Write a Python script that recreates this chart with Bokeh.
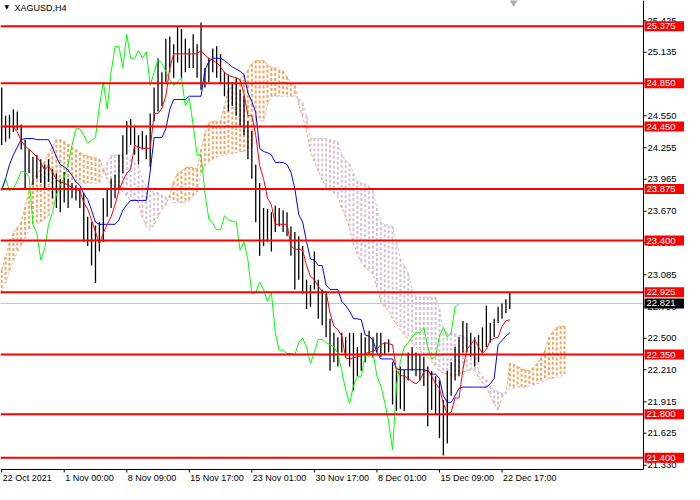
import numpy as np
from bokeh.plotting import figure
from bokeh.models import Range1d
from bokeh.core.properties import value
from bokeh.embed import file_html
from bokeh.resources import INLINE

symbol = "XAGUSD,H4"
x_tick_labels = ["22 Oct 2021", "1 Nov 00:00", "8 Nov 09:00", "15 Nov 17:00", "23 Nov 01:00",
                 "30 Nov 17:00", "8 Dec 01:00", "15 Dec 09:00", "22 Dec 17:00"]
slots_per_label = 16
price_ticks = [25.425, 25.135, 24.845, 24.550, 24.255, 23.965, 23.670, 23.380, 23.085,
               22.790, 22.500, 22.210, 21.915, 21.625, 21.330]
levels = [25.375, 24.850, 24.450, 23.875, 23.400, 22.925, 22.350, 21.800, 21.400]
last_price = 22.821

high = [24.81, 24.55, 24.56, 24.61, 24.59, 24.47, 24.33, 24.24, 24.17, 24.19,
        24.15, 24.10, 24.15, 24.06, 24.02, 23.97, 24.03, 23.97, 23.93, 23.91,
        23.88, 23.84, 23.62, 23.57, 23.54, 23.57, 23.79, 23.88, 23.97, 24.01,
        24.19, 24.37, 24.50, 24.52, 24.46, 24.37, 24.41, 24.37, 24.57, 24.81,
        25.08, 24.95, 25.26, 25.28, 25.21, 25.37, 25.35, 25.26, 25.17, 25.30,
        25.21, 25.41, 24.99, 25.08, 25.17, 25.19, 25.12, 24.95, 24.93, 24.86,
        24.90, 24.79, 24.73, 24.50, 24.41, 24.10, 23.93, 23.70, 23.69, 23.66,
        23.72, 23.70, 23.68, 23.66, 23.53, 23.48, 23.44, 23.35, 23.04, 22.99,
        23.30, 23.04, 22.95, 22.91, 22.68, 22.55, 22.51, 22.55, 22.51, 22.55,
        22.55, 22.42, 22.55, 22.51, 22.57, 22.51, 22.55, 22.55, 22.46, 22.49,
        22.28, 22.20, 22.24, 22.21, 22.37, 22.42, 22.37, 22.35, 22.33, 22.24,
        22.20, 22.15, 22.11, 21.93, 22.20, 22.28, 22.42, 22.51, 22.66, 22.64,
        22.55, 22.51, 22.53, 22.60, 22.80, 22.64, 22.68, 22.79, 22.82, 22.86,
        22.92]
low = [24.28, 24.31, 24.34, 24.40, 24.42, 24.24, 23.87, 24.02, 23.91, 23.97,
       23.93, 23.88, 23.94, 23.79, 23.70, 23.66, 23.75, 23.70, 23.79, 23.77,
       23.70, 23.39, 23.35, 23.17, 23.01, 23.30, 23.39, 23.62, 23.70, 23.79,
       23.88, 24.02, 24.19, 24.28, 24.19, 24.10, 24.24, 24.15, 24.08, 24.50,
       24.59, 24.64, 24.86, 24.95, 24.90, 25.04, 24.90, 24.95, 24.99, 24.99,
       24.90, 24.79, 24.81, 24.86, 24.95, 24.90, 24.84, 24.73, 24.59, 24.64,
       24.55, 24.46, 24.37, 24.15, 23.97, 23.57, 23.26, 23.35, 23.39, 23.30,
       23.48, 23.53, 23.48, 23.44, 23.26, 22.95, 23.04, 22.91, 22.77, 22.79,
       22.95, 22.68, 22.62, 22.51, 22.20, 22.28, 22.24, 22.37, 22.33, 22.24,
       22.02, 22.15, 22.20, 22.28, 22.35, 22.32, 22.37, 22.33, 22.35, 22.37,
       21.89, 21.83, 21.85, 21.83, 22.11, 22.20, 22.15, 22.11, 22.06, 21.69,
       21.84, 21.80, 21.58, 21.42, 21.53, 21.97, 22.11, 22.15, 22.37, 22.37,
       22.33, 22.24, 22.28, 22.37, 22.42, 22.46, 22.51, 22.64, 22.68, 22.73,
       22.77]
tenkan = [24.45, 24.45, 24.45, 24.45, 24.40, 24.32, 24.27, 24.24, 24.21, 24.17,
          24.12, 24.05, 24.09, 24.03, 23.96, 23.94, 23.93, 23.91, 23.89, 23.87,
          23.86, 23.75, 23.69, 23.59, 23.48, 23.37, 23.47, 23.55, 23.62, 23.73,
          23.86, 23.95, 24.02, 24.06, 24.28, 24.26, 24.25, 24.25, 24.25, 24.57,
          24.57, 24.62, 24.73, 24.99, 25.12, 25.12, 25.12, 25.12, 25.12, 25.12,
          25.12, 25.15, 25.11, 25.08, 25.06, 25.04, 25.00, 24.95, 24.92, 24.91,
          24.90, 24.88, 24.75, 24.55, 24.55, 24.37, 24.09, 23.97, 23.79, 23.73,
          23.55, 23.55, 23.55, 23.55, 23.35, 23.32, 23.32, 23.31, 23.17, 23.07,
          23.04, 22.98, 22.93, 22.93, 22.73, 22.61, 22.58, 22.52, 22.32, 22.31,
          22.32, 22.33, 22.34, 22.36, 22.37, 22.38, 22.40, 22.44, 22.46, 22.45,
          22.44, 22.20, 22.16, 22.15, 22.13, 22.10, 22.08, 22.11, 22.19, 22.21,
          22.15, 22.08, 22.04, 21.90, 21.80, 21.82, 21.95, 21.95, 22.21, 22.40,
          22.44, 22.49, 22.42, 22.36, 22.40, 22.48, 22.50, 22.51, 22.61, 22.66,
          22.67]
kijun = [23.86, 23.97, 24.10, 24.19, 24.26, 24.33, 24.34, 24.34, 24.34, 24.33,
         24.33, 24.33, 24.33, 24.26, 24.17, 24.10, 24.08, 24.05, 24.00, 23.94,
         23.91, 23.83, 23.78, 23.68, 23.57, 23.55, 23.55, 23.55, 23.55, 23.55,
         23.59, 23.68, 23.73, 23.77, 23.77, 23.77, 23.77, 23.77, 24.04, 24.35,
         24.35, 24.35, 24.43, 24.61, 24.70, 24.70, 24.70, 24.70, 24.73, 24.73,
         24.73, 24.73, 24.97, 25.05, 25.08, 25.08, 25.08, 25.06, 25.03, 25.00,
         24.98, 24.96, 24.93, 24.76, 24.68, 24.58, 24.25, 24.22, 24.21, 24.19,
         24.12, 24.12, 24.12, 24.10, 24.03, 23.88, 23.64, 23.57, 23.39, 23.23,
         23.22, 23.17, 23.17, 22.99, 22.95, 22.95, 22.95, 22.84, 22.80, 22.75,
         22.68, 22.68, 22.67, 22.53, 22.52, 22.48, 22.37, 22.31, 22.31, 22.31,
         22.31, 22.22, 22.21, 22.21, 22.21, 22.21, 22.21, 22.21, 22.21, 22.20,
         22.17, 22.17, 22.13, 21.97, 21.91, 21.91, 21.97, 22.04, 22.05, 22.05,
         22.05, 22.05, 22.05, 22.05, 22.05, 22.08, 22.13, 22.44, 22.48, 22.52,
         22.55]
chikou = [23.88, 23.97, 23.86, 23.88, 23.95, 24.04, 24.03, 23.99, 23.55, 23.47,
          23.22, 23.32, 23.55, 23.66, 23.82, 23.91, 23.98, 24.10, 24.28, 24.43,
          24.43, 24.37, 24.30, 24.32, 24.35, 24.64, 24.86, 24.61, 24.95, 25.19,
          25.19, 24.99, 25.30, 25.08, 25.08, 25.15, 25.08, 25.14, 24.83, 24.95,
          25.07, 25.03, 24.96, 24.88, 24.83, 24.86, 24.90, 24.64, 24.71, 24.46,
          24.19, 24.19, 23.84, 23.60, 23.56, 23.50, 23.50, 23.63, 23.59, 23.58,
          23.57, 23.31, 23.39, 23.22, 22.91, 22.92, 23.02, 22.95, 22.84, 22.92,
          22.55, 22.39, 22.39, 22.36, 22.36, 22.35, 22.46, 22.50, 22.42, 22.27,
          22.37, 22.49, 22.49, 22.46, 22.44, 22.42, 22.36, 22.20, 22.02, 21.90,
          22.06, 22.15, 22.15, 22.35, 22.33, 22.37, 22.15, 22.06, 21.91, 21.73,
          21.47, 22.06, 22.29, 22.42, 22.46, 22.51, 22.55, 22.55, 22.60, 22.42,
          22.31, 22.33, 22.52, 22.60, 22.51, 22.55, 22.79, 22.82]
span_a = [23.13, 23.25, 23.38, 23.47, 23.52, 23.57, 23.71, 23.86, 23.95, 24.01,
          24.06, 24.13, 24.20, 24.27, 24.33, 24.33, 24.31, 24.29, 24.26, 24.24,
          24.21, 24.19, 24.18, 24.17, 24.16, 24.15, 24.06, 23.97, 23.92, 23.90,
          23.88, 23.85, 23.81, 23.78, 23.77, 23.75, 23.62, 23.53, 23.50, 23.55,
          23.62, 23.69, 23.73, 23.82, 23.94, 24.02, 24.04, 24.07, 24.08, 24.07,
          24.06, 24.24, 24.39, 24.48, 24.50, 24.50, 24.50, 24.64, 24.79, 24.82,
          24.86, 24.89, 24.93, 24.97, 25.03, 25.06, 25.06, 25.06, 25.02, 24.99,
          24.99, 24.97, 24.96, 24.91, 24.85, 24.83, 24.65, 24.54, 24.41, 24.22,
          24.13, 24.04, 23.96, 23.89, 23.86, 23.84, 23.80, 23.70, 23.62, 23.51,
          23.37, 23.28, 23.20, 23.15, 23.12, 23.09, 22.97, 22.84, 22.78, 22.76,
          22.68, 22.63, 22.58, 22.53, 22.50, 22.46, 22.42, 22.38, 22.36, 22.32,
          22.29, 22.24, 22.20, 22.18, 22.17, 22.15, 22.16, 22.17, 22.19, 22.20,
          22.21, 22.20, 22.14, 22.09, 22.05, 21.97, 21.90, 21.84, 21.96, 21.99,
          22.27, 22.26, 22.24, 22.22, 22.21, 22.20, 22.23, 22.27, 22.32, 22.39,
          22.51, 22.56, 22.60, 22.61, 22.61]
span_b = [22.91, 23.01, 23.12, 23.22, 23.29, 23.35, 23.42, 23.49, 23.54, 23.55,
          23.57, 23.60, 23.63, 23.73, 23.81, 23.84, 23.91, 23.94, 23.94, 23.94,
          23.93, 23.93, 23.93, 23.93, 23.93, 23.93, 24.02, 24.12, 24.18, 24.19,
          24.19, 24.18, 24.17, 24.15, 24.12, 24.09, 23.96, 23.90, 23.87, 23.84,
          23.84, 23.82, 23.80, 23.78, 23.75, 23.75, 23.75, 23.75, 23.77, 23.80,
          23.84, 24.02, 24.09, 24.12, 24.15, 24.17, 24.18, 24.19, 24.20, 24.20,
          24.21, 24.22, 24.22, 24.24, 24.26, 24.52, 24.51, 24.50, 24.65, 24.73,
          24.73, 24.73, 24.73, 24.73, 24.73, 24.73, 24.71, 24.67, 24.55, 24.34,
          24.34, 24.34, 24.34, 24.34, 24.33, 24.32, 24.31, 24.19, 24.14, 24.11,
          24.02, 23.95, 23.93, 23.92, 23.90, 23.86, 23.70, 23.57, 23.55, 23.54,
          23.53, 23.39, 23.23, 23.17, 23.10, 22.95, 22.88, 22.88, 22.88, 22.88,
          22.88, 22.88, 22.77, 22.55, 22.55, 22.55, 22.54, 22.53, 22.52, 22.49,
          22.46, 22.42, 22.20, 22.15, 22.12, 22.06, 22.02, 22.01, 21.99, 22.00,
          22.04, 22.04, 22.05, 22.05, 22.05, 22.06, 22.07, 22.08, 22.09, 22.11,
          22.13, 22.13, 22.14, 22.15, 22.17]

# ---- styling / layout constants ----
SANDY = "#f4a460"
THISTLE = "#d8bfd8"
FONT = value("Liberation Sans")
PW, PH = 684, 484          # canvas
AW, AH = 643, 469          # chart area (price axis on the right, time axis below)
X0, X1 = -0.3, 164.2       # visible bar slots in chart area
Y0, Y1 = 21.291, 25.612    # visible price range in chart area
px_x = (X1 - X0) / AW
px_y = (Y1 - Y0) / AH
XE = X0 + px_x * PW
YB = Y1 - px_y * PH

p = figure(width=PW, height=PH, x_range=Range1d(X0, XE), y_range=Range1d(YB, Y1),
           output_backend="svg", toolbar_location=None, x_axis_location=None,
           y_axis_location=None, min_border=0, background_fill_color="white",
           border_fill_color="white", outline_line_color=None)
for g in p.grid:
    g.visible = False

# ---- Ichimoku cloud: dotted columns between the two spans ----
cs = np.arange(len(span_a))
a = np.array(span_a)
b = np.array(span_b)
top = np.maximum(a, b)
bot = np.minimum(a, b)
cloud_colors = [SANDY if av >= bv else THISTLE for av, bv in zip(span_a, span_b)]
p.segment(x0=cs, y0=top, x1=cs, y1=bot, line_color=cloud_colors, line_width=2,
          line_dash="3 2")
p.line(cs, a, line_color=SANDY, line_width=1, line_dash="3 2")
p.line(cs, b, line_color=THISTLE, line_width=1, line_dash="3 2")

# current price line
p.segment(x0=[X0], y0=[last_price], x1=[X1], y1=[last_price], line_color="#c0c0c0", line_width=1)

# ---- price bars ----
bs = np.arange(len(high))
p.segment(x0=bs, y0=low, x1=bs, y1=high, line_color="black", line_width=1.3)

# ---- indicator lines ----
p.line(np.arange(len(chikou)), chikou, line_color="#00ff00", line_width=1)
p.line(np.arange(len(kijun)), kijun, line_color="#0000ff", line_width=1)
p.line(np.arange(len(tenkan)), tenkan, line_color="#ff0000", line_width=1)

# ---- horizontal levels ----
nl = len(levels)
p.segment(x0=[X0] * nl, y0=levels, x1=[X1] * nl, y1=levels, line_color="#ff0000", line_width=2)

# ---- axes drawn at the chart edge ----
p.segment(x0=[X1, X0], y0=[Y0, Y0], x1=[X1, X1], y1=[Y1, Y0], line_color="black", line_width=1)
nt = len(price_ticks)
p.segment(x0=[X1] * nt, y0=price_ticks, x1=[X1 + 3 * px_x] * nt, y1=price_ticks,
          line_color="black", line_width=1)
p.text(x=[X1 + 4 * px_x] * nt, y=price_ticks, text=[f"{t:.3f}" for t in price_ticks],
       text_align="left", text_baseline="middle", text_font=FONT, text_font_size="9.5px",
       text_color="black")

label_slots = [i * slots_per_label for i in range(len(x_tick_labels))]
nx = len(label_slots)
p.segment(x0=label_slots, y0=[Y0] * nx, x1=label_slots, y1=[Y0 - 3 * px_y] * nx,
          line_color="black", line_width=1)
p.text(x=[s + 1 * px_x for s in label_slots], y=[Y0 - 3 * px_y] * nx, text=x_tick_labels,
       text_align="left", text_baseline="top", text_font=FONT, text_font_size="9px",
       text_color="black")

# ---- price labels on the axis ----
p.quad(left=[X1 + 1 * px_x] * nl, right=[XE] * nl,
       bottom=[lv - 5 * px_y for lv in levels], top=[lv + 5 * px_y for lv in levels],
       fill_color="#ff0000", line_color=None)
p.text(x=[X1 + 3 * px_x] * nl, y=levels, text=[f"{lv:.3f}" for lv in levels],
       text_align="left", text_baseline="middle", text_font=FONT, text_font_size="9.5px",
       text_color="white")
p.quad(left=[X1 + 1 * px_x], right=[XE], bottom=[last_price - 5 * px_y],
       top=[last_price + 5 * px_y], fill_color="black", line_color=None)
p.text(x=[X1 + 3 * px_x], y=[last_price], text=[f"{last_price:.3f}"],
       text_align="left", text_baseline="middle", text_font=FONT, text_font_size="9.5px",
       text_color="white")

# ---- header and chart-shift marker ----
p.text(x=[X0 + 4 * px_x], y=[Y1 - 6 * px_y], text=["\u25bc"], text_align="left",
       text_baseline="middle", text_font=value("DejaVu Sans"), text_font_size="6px",
       text_color="black")
p.text(x=[X0 + 14 * px_x], y=[Y1 - 2 * px_y], text=[symbol], text_align="left",
       text_baseline="top", text_font=FONT, text_font_size="9px", text_color="black")
p.scatter(x=[len(high)], y=[Y1], marker="inverted_triangle", size=10,
          fill_color="#b0b0b0", line_color="#b0b0b0")

open("out.html", "w").write(file_html(p, INLINE))
